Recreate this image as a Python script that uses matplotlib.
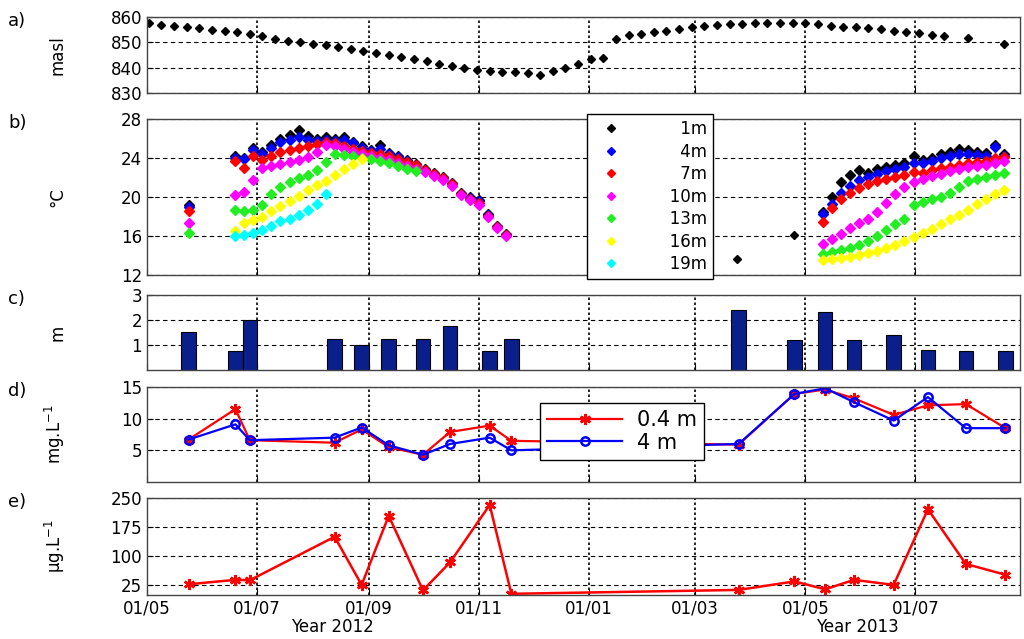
import numpy as np
import pandas as pd
import matplotlib
matplotlib.use('Agg')
import matplotlib.pyplot as plt
import matplotlib.dates as mdates

plt.rcParams['font.family'] = ['DejaVu Sans']
plt.rcParams['font.size'] = 12

# a) lake level, weekly readings + two late ones
level_dates = list(pd.date_range('2012-05-02', periods=64, freq='7D')) + \
    [pd.Timestamp('2013-07-30'), pd.Timestamp('2013-08-19')]
level = [857.5, 857.0, 856.6, 856.2, 855.6, 855.0, 854.5, 854.0, 853.2, 852.5,
         851.3, 850.6, 850.0, 849.3, 848.8, 848.0, 847.2, 846.4, 845.8, 845.0,
         844.3, 843.6, 842.5, 841.6, 840.7, 839.8, 839.0, 838.6, 838.4, 838.1,
         837.7, 837.2, 838.6, 839.8, 841.5, 843.5, 843.9, 851.2, 852.7, 853.3,
         853.9, 854.5, 855.3, 856.1, 856.6, 856.8, 857.1, 857.4, 857.6, 857.7,
         857.8, 857.7, 857.5, 857.1, 856.6, 856.2, 855.9, 855.7, 855.1, 854.4,
         854.1, 853.6, 853.0, 852.5, 851.5, 849.2]

# b) temperature profiles
depths = ['\u2007\u20071m', '\u2007\u20074m', '\u2007\u20077m', '\u200710m', '\u200713m', '\u200716m', '\u200719m']
colors = ['black', 'blue', 'red', 'magenta', '#22ee22', 'yellow', 'cyan']

early_date = pd.Timestamp('2012-05-24')
early_temp = [19.2, 19.0, 18.6, 17.3, 16.3, np.nan, np.nan]

t2012_dates = pd.date_range('2012-06-19', periods=31, freq='5D')
nan = np.nan
t2012 = [
    [24.2, 24.0, 25.0, 24.6, 25.3, 26.0, 26.4, 26.9, 26.3, 26.0, 26.2, 26.0, 26.2, 25.7, 25.2, 24.8,
     25.3, 24.5, 24.2, 23.8, 23.4, 22.9, 22.5, 22.1, 21.4, 20.4, 20.0, 19.7, 18.3, 17.0, 16.2],
    [24.0, 23.9, 24.8, 24.4, 25.0, 25.6, 25.9, 26.2, 25.9, 25.8, 25.9, 25.8, 25.9, 25.5, 25.0, 24.7,
     24.9, 24.4, 24.1, 23.7, 23.3, 22.8, 22.4, 22.0, 21.3, 20.3, 19.9, 19.6, 18.2, 16.9, 16.1],
    [23.7, 23.0, 24.2, 23.8, 24.2, 24.6, 24.8, 25.0, 25.2, 25.4, 25.6, 25.5, 25.2, 24.9, 24.7, 24.5,
     24.4, 24.2, 23.9, 23.6, 23.3, 22.8, 22.4, 22.0, 21.3, 20.3, 19.8, 19.4, 18.1, 16.9, 16.1],
    [20.2, 20.5, 21.8, 23.0, 23.2, 23.4, 23.6, 23.8, 24.1, 24.6, 25.3, 25.2, 24.9, 24.6, 24.4, 24.2,
     24.0, 23.8, 23.5, 23.2, 22.9, 22.6, 22.2, 21.8, 21.1, 20.2, 19.7, 19.2, 18.0, 16.8, 16.0],
    [18.7, 18.6, 18.7, 19.2, 20.3, 21.0, 21.5, 22.0, 22.3, 22.8, 23.6, 24.4, 24.3, 24.2, 24.0, 23.9,
     23.7, 23.5, 23.2, 22.9, 22.7, nan, nan, nan, nan, nan, nan, nan, nan, nan, nan],
    [16.5, 17.3, 17.6, 18.0, 18.6, 19.1, 19.6, 20.1, 20.7, 21.2, 21.7, 22.3, 22.9, 23.4, 23.9, nan,
     nan, nan, nan, nan, nan, nan, nan, nan, nan, nan, nan, nan, nan, nan, nan],
    [16.0, 16.1, 16.3, 16.6, 17.0, 17.5, 17.8, 18.2, 18.7, 19.3, 20.3, nan, nan, nan, nan, nan,
     nan, nan, nan, nan, nan, nan, nan, nan, nan, nan, nan, nan, nan, nan, nan],
]

spring_dates = [pd.Timestamp('2013-03-24'), pd.Timestamp('2013-04-25')]
spring_1m = [13.6, 16.1]

t2013_dates = pd.date_range('2013-05-11', periods=21, freq='5D')
t2013 = [
    [18.5, 20.0, 21.5, 22.3, 22.8, 22.5, 22.9, 23.1, 23.3, 23.5, 24.2, 23.8, 24.0, 24.4, 24.6, 24.9,
     24.8, 24.6, 24.5, 25.3, 24.4],
    [18.3, 19.3, 20.4, 21.1, 21.8, 22.1, 22.4, 22.7, 22.9, 23.1, 23.5, 23.5, 23.7, 24.0, 24.2, 24.4,
     24.4, 24.3, 24.2, 25.1, 24.2],
    [17.4, 18.9, 19.8, 20.4, 20.9, 21.3, 21.6, 21.9, 22.1, 22.3, 22.6, 22.5, 22.8, 23.0, 23.1, 23.3,
     23.5, 23.6, 23.7, 24.0, 24.1],
    [15.2, 15.7, 16.2, 16.8, 17.3, 17.8, 18.5, 19.4, 20.3, 21.0, 21.5, 21.9, 22.2, 22.4, 22.7, 22.9,
     23.1, 23.2, 23.3, 23.5, 23.7],
    [14.2, 14.4, 14.6, 14.8, 15.1, 15.5, 16.0, 16.6, 17.2, 17.8, 19.2, 19.5, 19.8, 20.0, 20.4, 21.0,
     21.6, 21.9, 22.1, 22.3, 22.5],
    [13.5, 13.6, 13.7, 13.9, 14.1, 14.3, 14.5, 14.8, 15.1, 15.5, 15.9, 16.3, 16.7, 17.2, 17.7, 18.2,
     18.7, 19.3, 19.8, 20.3, 20.7],
]

# c, d, e) sampling campaigns
samp_dates = pd.to_datetime(['2012-05-24', '2012-06-19', '2012-06-27', '2012-08-13', '2012-08-28',
                             '2012-09-12', '2012-10-01', '2012-10-16', '2012-11-07', '2012-11-19',
                             '2013-03-25', '2013-04-25', '2013-05-12', '2013-05-28', '2013-06-19',
                             '2013-07-08', '2013-07-29', '2013-08-20'])
secchi = [1.5, 0.75, 2.0, 1.25, 1.0, 1.25, 1.25, 1.75, 0.75, 1.25,
          2.4, 1.2, 2.3, 1.2, 1.4, 0.8, 0.75, 0.75]
doc_04m = [6.7, 11.5, 6.6, 6.2, 8.3, 5.5, 4.3, 7.9, 8.9, 6.5,
           5.9, 13.9, 14.6, 13.2, 10.6, 12.1, 12.3, 8.5]
doc_4m = [6.7, 9.1, 6.6, 7.0, 8.6, 5.8, 4.3, 6.0, 7.0, 5.0,
          6.0, 13.9, 14.8, 12.6, 9.7, 13.4, 8.5, 8.5]
chla = [27.6, 39, 38, 150, 26, 204, 12, 84, 232, 3,
        13, 35, 14.5, 39, 26, 221, 80, 52]

xmin, xmax = pd.Timestamp('2012-05-01'), pd.Timestamp('2013-08-28')

fig = plt.figure(figsize=(10.24, 6.39), dpi=100)
L, W = 0.1436, 0.8524
ax_a = fig.add_axes([L, 0.8545, W, 0.119])
ax_b = fig.add_axes([L, 0.5696, W, 0.244])
ax_c = fig.add_axes([L, 0.421, W, 0.1174])
ax_d = fig.add_axes([L, 0.2457, W, 0.1487])
ax_e = fig.add_axes([L, 0.0689, W, 0.1518])
axes = [ax_a, ax_b, ax_c, ax_d, ax_e]

ax_a.plot(level_dates, level, 'D', color='k', ms=4.5, ls='none')
ax_a.set_ylim(830, 860)
ax_a.set_yticks([830, 840, 850, 860])
ax_a.set_ylabel('masl')

for i in range(7):
    ax_b.plot([early_date], [early_temp[i]], 'D', color=colors[i], ms=5.5, ls='none')
    ax_b.plot(t2012_dates, t2012[i], 'D', color=colors[i], ms=5.5, ls='none', label=depths[i])
    if i < 6:
        ax_b.plot(t2013_dates, t2013[i], 'D', color=colors[i], ms=5.5, ls='none')
ax_b.plot(spring_dates, spring_1m, 'D', color='k', ms=4.5, ls='none')
ax_b.set_ylim(12, 28)
ax_b.set_yticks([12, 16, 20, 24, 28])
ax_b.set_ylabel('°C')
leg = ax_b.legend(loc='upper left', bbox_to_anchor=(0.504, 1.03), frameon=True, fancybox=False,
                  framealpha=1, edgecolor='k', handlelength=2.2, labelspacing=0.27,
                  borderpad=0.35, handletextpad=1.8, borderaxespad=0, markerscale=0.75)
leg.get_frame().set_linewidth(1.0)

ax_c.bar(samp_dates, secchi, width=8, color='#0a1f8c', edgecolor='k', linewidth=0.8)
ax_c.set_ylim(0, 3)
ax_c.set_yticks([1, 2, 3])
ax_c.set_ylabel('m')

ax_d.plot(samp_dates, doc_04m, '-', color='red', lw=1.6, marker=(6, 2, 0), ms=8, mew=1.8,
          label='0.4 m')
ax_d.plot(samp_dates, doc_4m, '-', color='blue', lw=1.6, marker='o', ms=6, mfc='none', mew=1.8,
          label='4 m')
ax_d.set_ylim(0, 15)
ax_d.set_yticks([5, 10, 15])
ax_d.set_ylabel('mg.L$^{-1}$')
leg2 = ax_d.legend(loc='upper left', bbox_to_anchor=(0.45, 0.83), frameon=True, fancybox=False,
                   framealpha=1, edgecolor='k', handlelength=3.6, fontsize=15, labelspacing=0.1,
                   borderpad=0.35, handletextpad=0.7, borderaxespad=0)
leg2.get_frame().set_linewidth(1.0)

ax_e.plot(samp_dates, chla, '-', color='red', lw=1.8, marker=(6, 2, 0), ms=8, mew=1.8)
ax_e.set_ylim(0, 250)
ax_e.set_yticks([25, 100, 175, 250])
ax_e.set_ylabel('µg.L$^{-1}$')

for ax, lab in zip(axes, ['a)', 'b)', 'c)', 'd)', 'e)']):
    ax.set_xlim(xmin, xmax)
    ax.xaxis.set_major_locator(mdates.MonthLocator(bymonth=[1, 3, 5, 7, 9, 11]))
    ax.xaxis.set_major_formatter(mdates.DateFormatter('%d/%m'))
    ax.yaxis.grid(True, linestyle=(0, (4, 3)), color='k', lw=0.8)
    ax.xaxis.grid(True, linestyle=(0, (1.5, 1.5)), color='k', lw=1.2)
    ax.set_axisbelow(True)
    ax.tick_params(direction='in', length=4, labelsize=12)
    ax.yaxis.set_label_coords(-0.092, 0.5)
    for s in ax.spines.values():
        s.set_color('#444444')
        s.set_linewidth(1.0)
    if ax is not ax_e:
        ax.tick_params(labelbottom=False)
    bb = ax.get_position()
    fig.text(0.008, bb.y1 + 0.008, lab, fontsize=13, va='top', ha='left')

ax_e.text(pd.Timestamp('2012-08-12'), -0.33, 'Year 2012', transform=ax_e.get_xaxis_transform(),
          ha='center', va='center', fontsize=12)
ax_e.text(pd.Timestamp('2013-05-30'), -0.33, 'Year 2013', transform=ax_e.get_xaxis_transform(),
          ha='center', va='center', fontsize=12)

fig.savefig('out.png', dpi=100)
